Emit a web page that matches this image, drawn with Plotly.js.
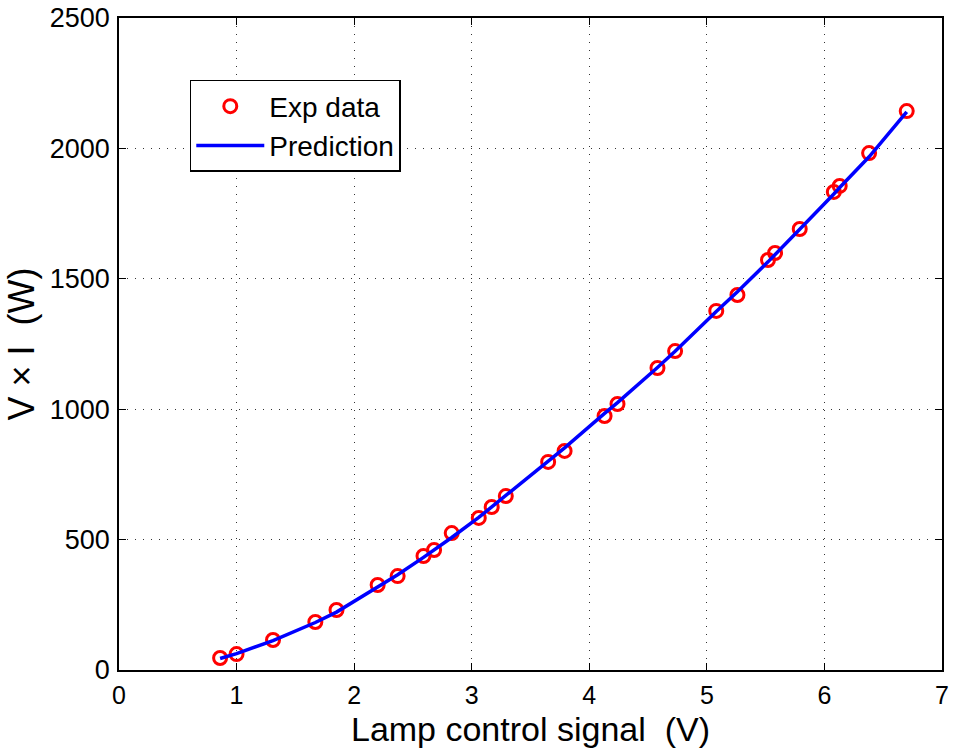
<!DOCTYPE html>
<html><head><meta charset="utf-8">
<script src="https://cdn.plot.ly/plotly-3.0.1.min.js"></script>
<style>body{margin:0;padding:0;background:#fff}#chart{width:956px;height:748px}</style>
</head><body><div id="chart"></div>
<script>
const expX = [0.86,1.00,1.31,1.67,1.85,2.20,2.37,2.59,2.68,2.83,3.06,3.17,3.29,3.65,3.79,4.13,4.24,4.58,4.73,5.08,5.26,5.52,5.58,5.79,6.08,6.13,6.38,6.70];
const expY = [46,61,115,184,230,326,360,437,460,525,583,625,667,798,840,974,1020,1158,1223,1377,1438,1572,1599,1691,1833,1856,1982,2143];
const predX = [0.86,1.00,1.31,1.67,1.85,2.20,2.37,2.59,2.68,2.83,3.06,3.17,3.29,3.65,3.79,4.13,4.24,4.58,4.73,5.08,5.26,5.52,5.58,5.79,6.08,6.13,6.38,6.70];
const predY = [44,63,113,182,222,320,365,432,460,508,585,625,668,800,852,984,1025,1160,1222,1375,1450,1565,1592,1690,1825,1850,1968,2140];
const xTicks = [0,1,2,3,4,5,6,7];
const yTicks = [0,500,1000,1500,2000,2500];

const font = {family: 'Liberation Sans, Arial, Helvetica, sans-serif', color: '#000'};
const traces = [
  {x: expX, y: expY, mode: 'markers', name: 'Exp data', type: 'scatter',
   marker: {symbol: 'circle-open', size: 13, color: '#ff0000', line: {width: 3, color: '#ff0000'}}},
  {x: predX, y: predY, mode: 'lines', name: 'Prediction', type: 'scatter',
   line: {color: '#0000ff', width: 3.5}}
];
const axisCommon = {
  showline: true, mirror: 'ticks', linecolor: '#000', linewidth: 1.5,
  ticks: 'inside', ticklen: 7, tickcolor: '#000', tickwidth: 1,
  showgrid: true, gridcolor: '#333', griddash: '1px,7px', gridwidth: 1.2,
  zeroline: false
};
const layout = {
  width: 956, height: 748,
  margin: {l: 119, r: 14, t: 18, b: 78},
  paper_bgcolor: '#fff', plot_bgcolor: '#fff',
  showlegend: true,
  legend: {x: 0.086, y: 0.905, xanchor: 'left', yanchor: 'top',
    bgcolor: '#fff', bordercolor: '#000', borderwidth: 1.5, itemwidth: 68,
    font: Object.assign({size: 28}, font), tracegroupgap: 0},
  xaxis: Object.assign({}, axisCommon, {range: [0, 7], tickvals: xTicks, ticktext: xTicks.map(String),
    tickfont: Object.assign({size: 25}, font), ticklabelstandoff: 2,
    title: {text: 'Lamp control signal  (V)', font: Object.assign({size: 34}, font), standoff: 9}}),
  yaxis: Object.assign({}, axisCommon, {range: [0, 2500], tickvals: yTicks, ticktext: yTicks.map(String),
    tickfont: Object.assign({size: 27}, font), ticklabelstandoff: 2,
    title: {text: 'V \u00d7 I  (W)', font: Object.assign({size: 36}, font), standoff: 4}})
};
Plotly.newPlot('chart', traces, layout, {displayModeBar: false});
</script></body></html>
